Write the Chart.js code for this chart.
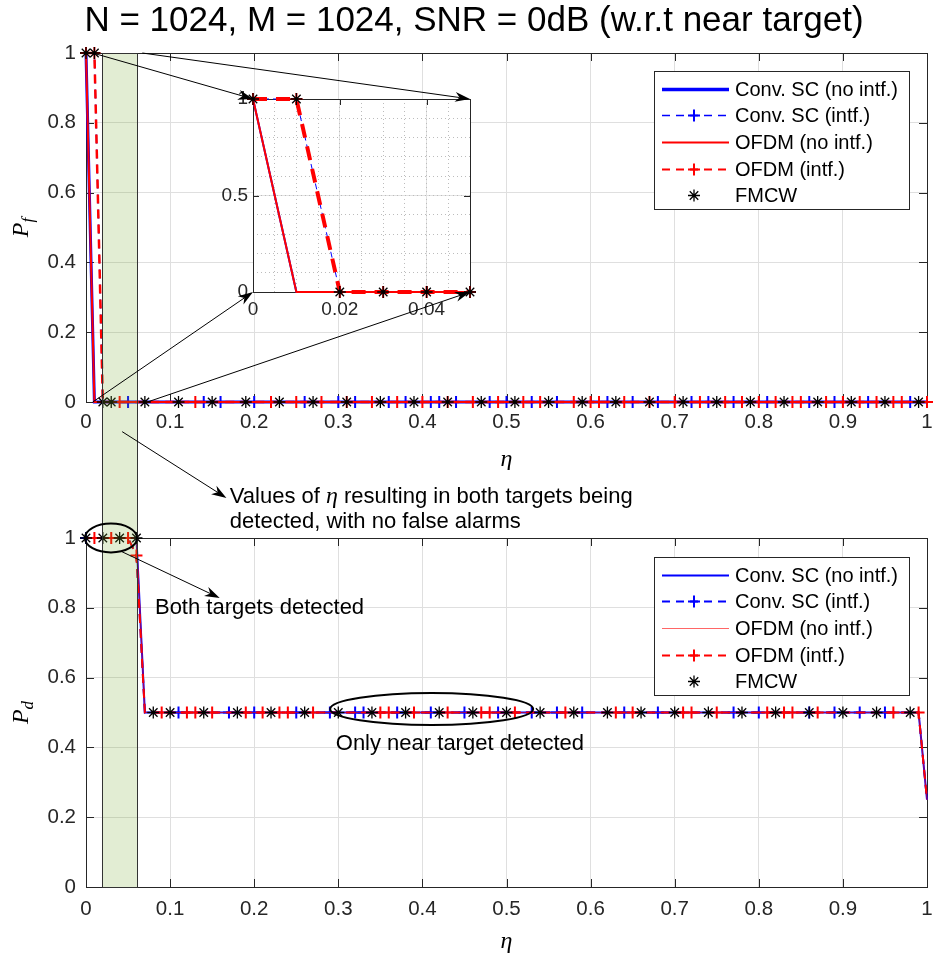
<!DOCTYPE html>
<html>
<head>
<meta charset="utf-8">
<script src="https://cdn.jsdelivr.net/npm/chart.js@4.4.1/dist/chart.umd.min.js"></script>
<style>
  html, body { margin: 0; padding: 0; background: #fff; }
  #wrap { position: relative; width: 933px; height: 962px; overflow: hidden; background: #fff; }
  #wrap canvas { position: absolute; }
</style>
</head>
<body>
<div id="wrap">
  <canvas id="pfChart" width="933" height="470" style="left:0;top:0"></canvas>
  <canvas id="pdChart" width="933" height="492" style="left:0;top:470px"></canvas>
  <canvas id="zoomChart" width="290" height="240" style="left:200px;top:85px"></canvas>
  <canvas id="notes" width="933" height="962" style="left:0;top:0;pointer-events:none"></canvas>
</div>
<script>
// ticks
const etaTicks = [0, 0.1, 0.2, 0.3, 0.4, 0.5, 0.6, 0.7, 0.8, 0.9, 1];
const probTicks = [0, 0.2, 0.4, 0.6, 0.8, 1];
const zoomEtaTicks = [0, 0.02, 0.04];
const zoomEtaMinor = [0, 0.005, 0.01, 0.015, 0.02, 0.025, 0.03, 0.035, 0.04, 0.045, 0.05];
const zoomProbTicks = [0, 0.5, 1];
const zoomProbMinor = [0, 0.1, 0.2, 0.3, 0.4, 0.5, 0.6, 0.7, 0.8, 0.9, 1];

const seriesNames = ["Conv. SC (no intf.)", "Conv. SC (intf.)", "OFDM (no intf.)", "OFDM (intf.)", "FMCW"];
const chartTitle = "N = 1024, M = 1024, SNR = 0dB (w.r.t near target)";

// P_f curves (corner points)
const pfEtaNoIntf = [0, 0.01, 1];
const pfConvNoIntf = [1, 0, 0];
const pfOfdmNoIntf = [1, 0, 0];
const pfEtaIntf = [0, 0.01, 0.02, 1];
const pfConvIntf = [1, 1, 0, 0];
const pfOfdmIntf = [1, 1, 0, 0];

// P_f marker samples
const pfConvMkEta = [0, 0.05, 0.14, 0.16, 0.20, 0.26, 0.30, 0.32, 0.36, 0.38, 0.41, 0.42, 0.44, 0.48, 0.50, 0.53, 0.56, 0.62, 0.65, 0.68, 0.72, 0.74, 0.77, 0.81, 0.86, 0.89, 0.93, 0.98];
const pfConvMkVal = [1, 0, 0, 0, 0, 0, 0, 0, 0, 0, 0, 0, 0, 0, 0, 0, 0, 0, 0, 0, 0, 0, 0, 0, 0, 0, 0, 0];
const pfOfdmMkEta = [0, 0.01, 0.04, 0.13, 0.22, 0.25, 0.28, 0.31, 0.34, 0.37, 0.40, 0.43, 0.46, 0.49, 0.52, 0.54, 0.58, 0.60, 0.61, 0.64, 0.67, 0.70, 0.73, 0.76, 0.78, 0.80, 0.82, 0.84, 0.85, 0.88, 0.90, 0.92, 0.94, 0.96, 0.97, 1];
const pfOfdmMkVal = [1, 1, 0, 0, 0, 0, 0, 0, 0, 0, 0, 0, 0, 0, 0, 0, 0, 0, 0, 0, 0, 0, 0, 0, 0, 0, 0, 0, 0, 0, 0, 0, 0, 0, 0, 0];
const pfFmcwEta = [0, 0.01, 0.02, 0.03, 0.07, 0.11, 0.15, 0.19, 0.23, 0.27, 0.31, 0.35, 0.39, 0.43, 0.47, 0.51, 0.55, 0.59, 0.63, 0.67, 0.71, 0.75, 0.79, 0.83, 0.87, 0.91, 0.95, 0.99];
const pfFmcwVal = [1, 1, 0, 0, 0, 0, 0, 0, 0, 0, 0, 0, 0, 0, 0, 0, 0, 0, 0, 0, 0, 0, 0, 0, 0, 0, 0, 0];

// P_d curves (corner points)
const pdEtaNoIntf = [0, 0.06, 0.07, 0.99, 1];
const pdConvNoIntf = [1, 1, 0.5, 0.5, 0.25];
const pdOfdmNoIntf = [1, 1, 0.5, 0.5, 0.25];
const pdEtaIntf = [0, 0.05, 0.06, 0.07, 0.99, 1];
const pdConvIntf = [1, 1, 0.95, 0.5, 0.5, 0.25];
const pdOfdmIntf = [1, 1, 0.95, 0.5, 0.5, 0.25];

// P_d marker samples
const pdConvMkEta = [0, 0.11, 0.17, 0.20, 0.25, 0.29, 0.32, 0.33, 0.37, 0.41, 0.45, 0.49, 0.53, 0.56, 0.59, 0.64, 0.68, 0.77, 0.80, 0.86, 0.89, 0.92, 0.95];
const pdConvMkVal = [1, 0.5, 0.5, 0.5, 0.5, 0.5, 0.5, 0.5, 0.5, 0.5, 0.5, 0.5, 0.5, 0.5, 0.5, 0.5, 0.5, 0.5, 0.5, 0.5, 0.5, 0.5, 0.5];
const pdOfdmMkEta = [0.01, 0.03, 0.05, 0.06, 0.09, 0.12, 0.13, 0.15, 0.19, 0.21, 0.23, 0.24, 0.27, 0.35, 0.36, 0.39, 0.43, 0.47, 0.48, 0.51, 0.57, 0.63, 0.65, 0.71, 0.72, 0.75, 0.81, 0.83, 0.84, 0.87, 0.96, 0.99];
const pdOfdmMkVal = [1, 1, 1, 0.95, 0.5, 0.5, 0.5, 0.5, 0.5, 0.5, 0.5, 0.5, 0.5, 0.5, 0.5, 0.5, 0.5, 0.5, 0.5, 0.5, 0.5, 0.5, 0.5, 0.5, 0.5, 0.5, 0.5, 0.5, 0.5, 0.5, 0.5, 0.5];
const pdFmcwEta = [0, 0.02, 0.04, 0.06, 0.08, 0.10, 0.14, 0.18, 0.22, 0.26, 0.30, 0.34, 0.38, 0.42, 0.46, 0.50, 0.54, 0.58, 0.62, 0.66, 0.70, 0.74, 0.78, 0.82, 0.86, 0.90, 0.94, 0.98];
const pdFmcwVal = [1, 1, 1, 1, 0.5, 0.5, 0.5, 0.5, 0.5, 0.5, 0.5, 0.5, 0.5, 0.5, 0.5, 0.5, 0.5, 0.5, 0.5, 0.5, 0.5, 0.5, 0.5, 0.5, 0.5, 0.5, 0.5, 0.5];

// zoomed P_f markers
const zoomMkEta = [0, 0.01, 0.02, 0.03, 0.04, 0.05];
const zoomOfdmMkVal = [1, 1, 0, 0, 0, 0];
const zoomFmcwVal = [1, 1, 0, 0, 0, 0];

const FONT = "'Liberation Sans', Arial, Helvetica, sans-serif";
const SERIF = "'Liberation Serif', 'DejaVu Serif', serif";
const AX = "#262626";

function pts(xs, ys) {
    return xs.map((x, i) => ({ x: x, y: ys[i] }));
}

function lineSet(xs, ys, color, width, dash, order, clip) {
    return {
        data: pts(xs, ys),
        borderColor: color,
        borderWidth: width,
        borderDash: dash,
        pointRadius: 0,
        pointHoverRadius: 0,
        tension: 0,
        fill: false,
        clip: clip,
        order: order
    };
}

function markSet(xs, ys, color, style, radius, width, order) {
    return {
        data: pts(xs, ys),
        showLine: false,
        pointStyle: style,
        pointRadius: radius,
        pointHoverRadius: radius,
        pointBorderColor: color,
        pointBackgroundColor: color,
        pointBorderWidth: width,
        clip: false,
        order: order
    };
}

function fixedTicks(list) {
    return s => { s.ticks = list.map(v => ({ value: v })); };
}

// keep the plot box where it is: no extra room for edge labels
function fixSize(w, h) {
    return s => {
        if (w !== null) s.width = w;
        if (h !== null) s.height = h;
        s.paddingLeft = 0; s.paddingRight = 0; s.paddingTop = 0; s.paddingBottom = 0;
    };
}

function drawMark(ctx, kind, x, y, color) {
    ctx.save();
    ctx.setLineDash([]);
    ctx.strokeStyle = color;
    ctx.beginPath();
    if (kind === "cross") {
        ctx.lineWidth = 2;
        ctx.moveTo(x - 6, y); ctx.lineTo(x + 6, y);
        ctx.moveTo(x, y - 6); ctx.lineTo(x, y + 6);
    } else {
        ctx.lineWidth = 1.3;
        for (let k = 0; k < 4; k++) {
            const a = k * Math.PI / 4;
            ctx.moveTo(x - 6 * Math.cos(a), y - 6 * Math.sin(a));
            ctx.lineTo(x + 6 * Math.cos(a), y + 6 * Math.sin(a));
        }
    }
    ctx.stroke();
    ctx.restore();
}

function drawLegend(ctx, a, lg) {
    const x0 = Math.round(a.right - 273), y0 = Math.round(a.top + lg.dy), w = 255, h = 138;
    ctx.save();
    ctx.fillStyle = "#fff";
    ctx.fillRect(x0, y0, w, h);
    ctx.strokeStyle = AX;
    ctx.lineWidth = 1;
    ctx.strokeRect(x0 + 0.5, y0 + 0.5, w, h);
    lg.items.forEach((it, i) => {
        const y = Math.round(y0 + 17.5 + i * 26.7) + 0.5;
        if (it.width) {
            ctx.beginPath();
            ctx.setLineDash(it.dash);
            ctx.lineWidth = it.width;
            ctx.strokeStyle = it.color;
            ctx.moveTo(x0 + 8, y);
            ctx.lineTo(x0 + 75, y);
            ctx.stroke();
            ctx.setLineDash([]);
        }
        if (it.mark) drawMark(ctx, it.mark, x0 + 40, y, it.markColor || it.color);
        ctx.fillStyle = "#000";
        ctx.font = "20px " + FONT;
        ctx.textAlign = "left";
        ctx.textBaseline = "middle";
        ctx.fillText(seriesNames[i], x0 + 81, y + 1);
    });
    ctx.restore();
}

function matlabLook(cfg) {
    return {
        id: "matlabLook",
        beforeDraw(chart) {
            if (!cfg.white) return;
            const { ctx, chartArea: a } = chart;
            ctx.save();
            ctx.fillStyle = "#fff";
            ctx.fillRect(a.left, a.top, a.right - a.left, a.bottom - a.top);
            ctx.restore();
        },
        beforeDatasetsDraw(chart) {
            const { ctx, chartArea: a, scales } = chart;
            const L = cfg.tick;
            ctx.save();
            ctx.strokeStyle = AX;
            ctx.lineWidth = 1;
            ctx.setLineDash([]);
            ctx.strokeRect(a.left + 0.5, a.top + 0.5, a.right - a.left, a.bottom - a.top);
            ctx.beginPath();
            scales.x.ticks.forEach(t => {
                const p = Math.round(scales.x.getPixelForValue(t.value)) + 0.5;
                ctx.moveTo(p, a.bottom); ctx.lineTo(p, a.bottom - L);
                ctx.moveTo(p, a.top); ctx.lineTo(p, a.top + L);
            });
            scales.y.ticks.forEach(t => {
                const p = Math.round(scales.y.getPixelForValue(t.value)) + 0.5;
                ctx.moveTo(a.left, p); ctx.lineTo(a.left + L, p);
                ctx.moveTo(a.right, p); ctx.lineTo(a.right - L, p);
            });
            ctx.stroke();
            ctx.restore();
        },
        afterDraw(chart) {
            const { ctx, chartArea: a } = chart;
            ctx.save();
            ctx.fillStyle = "#000";
            ctx.textBaseline = "middle";
            if (cfg.title) {
                ctx.font = "35px " + FONT;
                ctx.textAlign = "center";
                ctx.fillText(cfg.title, 474, 21);
            }
            if (cfg.yLabel) {
                ctx.font = "italic 24px " + SERIF;
                ctx.textAlign = "center";
                ctx.fillText("\u03b7", (a.left + a.right) / 2, a.bottom + cfg.xLabelGap);
                ctx.save();
                ctx.translate(22, (a.top + a.bottom) / 2);
                ctx.rotate(-Math.PI / 2);
                ctx.textAlign = "left";
                const wP = ctx.measureText("P").width;
                ctx.font = "italic 17px " + SERIF;
                const wS = ctx.measureText(cfg.yLabel).width;
                const x = -(wP + wS) / 2;
                ctx.font = "italic 24px " + SERIF;
                ctx.fillText("P", x, 0);
                ctx.font = "italic 17px " + SERIF;
                ctx.fillText(cfg.yLabel, x + wP, 7);
                ctx.restore();
            }
            if (cfg.legend) drawLegend(ctx, a, cfg.legend);
            ctx.restore();
        }
    };
}

function mainScales(xHeight, xPad) {
    const tickFont = { family: FONT, size: 20.5 };
    return {
        x: {
            type: "linear", min: 0, max: 1,
            afterBuildTicks: fixedTicks(etaTicks),
            afterFit: fixSize(null, xHeight),
            grid: { color: "#dfdfdf", drawTicks: false },
            border: { display: false },
            ticks: { color: AX, font: tickFont, padding: xPad, maxRotation: 0, autoSkip: false, callback: v => String(v) }
        },
        y: {
            type: "linear", min: 0, max: 1,
            afterBuildTicks: fixedTicks(probTicks),
            afterFit: fixSize(86, null),
            grid: { color: "#dfdfdf", drawTicks: false },
            border: { display: false },
            ticks: { color: AX, font: tickFont, padding: 10, autoSkip: false, callback: v => String(v) }
        }
    };
}

const baseOptions = {
    responsive: false,
    animation: false,
    events: [],
    plugins: { legend: { display: false }, tooltip: { enabled: false } }
};

const pfChart = new Chart(document.getElementById("pfChart"), {
    type: "line",
    data: {
        datasets: [
            lineSet(pfEtaNoIntf, pfConvNoIntf, "#0000ff", 3, [], 6, false),
            lineSet(pfEtaIntf, pfConvIntf, "#0000ff", 1.5, [9, 6], 5, false),
            markSet(pfConvMkEta, pfConvMkVal, "#0000ff", "cross", 6, 2, 4),
            lineSet(pfEtaNoIntf, pfOfdmNoIntf, "#ff0000", 2, [], 3, false),
            lineSet(pfEtaIntf, pfOfdmIntf, "#ff0000", 2.5, [9, 6], 2, false),
            markSet(pfOfdmMkEta, pfOfdmMkVal, "#ff0000", "cross", 6, 2, 1),
            markSet(pfFmcwEta, pfFmcwVal, "#000000", "star", 6, 1.3, 0)
        ]
    },
    options: Object.assign({}, baseOptions, {
        layout: { autoPadding: false, padding: { top: 53, right: 6, left: 0, bottom: 0 } },
        scales: mainScales(68, 8)
    }),
    plugins: [matlabLook({
        tick: 8, title: chartTitle, yLabel: "f", xLabelGap: 58,
        legend: {
            dy: 18,
            items: [
                { color: "#0000ff", width: 3.5, dash: [] },
                { color: "#0000ff", width: 1.5, dash: [8, 6], mark: "cross" },
                { color: "#ff0000", width: 2, dash: [] },
                { color: "#ff0000", width: 2, dash: [8, 6], mark: "cross" },
                { color: "#000", mark: "star" }
            ]
        }
    })]
});

const pdChart = new Chart(document.getElementById("pdChart"), {
    type: "line",
    data: {
        datasets: [
            lineSet(pdEtaNoIntf, pdConvNoIntf, "#0000ff", 2, [], 6, false),
            lineSet(pdEtaIntf, pdConvIntf, "#0000ff", 2, [9, 6], 5, false),
            markSet(pdConvMkEta, pdConvMkVal, "#0000ff", "cross", 6, 2, 4),
            lineSet(pdEtaNoIntf, pdOfdmNoIntf, "rgba(255,0,0,0.6)", 1.2, [], 3, false),
            lineSet(pdEtaIntf, pdOfdmIntf, "#ff0000", 2, [9, 6], 2, false),
            markSet(pdOfdmMkEta, pdOfdmMkVal, "#ff0000", "cross", 6, 2, 1),
            markSet(pdFmcwEta, pdFmcwVal, "#000000", "star", 6, 1.3, 0)
        ]
    },
    options: Object.assign({}, baseOptions, {
        layout: { autoPadding: false, padding: { top: 68, right: 6, left: 0, bottom: 0 } },
        scales: mainScales(75, 10)
    }),
    plugins: [matlabLook({
        tick: 8, yLabel: "d", xLabelGap: 55,
        legend: {
            dy: 19,
            items: [
                { color: "#0000ff", width: 2, dash: [] },
                { color: "#0000ff", width: 2, dash: [8, 6], mark: "cross" },
                { color: "rgba(255,0,0,0.6)", width: 1.2, dash: [] },
                { color: "#ff0000", width: 2, dash: [8, 6], mark: "cross" },
                { color: "#000", mark: "star" }
            ]
        }
    })]
});

const ZCLIP = { left: 0, right: 0, top: 4, bottom: 4 };
const zoomFont = { family: FONT, size: 19 };

const zoomChart = new Chart(document.getElementById("zoomChart"), {
    type: "line",
    data: {
        datasets: [
            lineSet(pfEtaNoIntf, pfConvNoIntf, "#0000ff", 2, [], 6, ZCLIP),
            lineSet(pfEtaIntf, pfConvIntf, "#0000ff", 1, [6, 4], 4, ZCLIP),
            lineSet(pfEtaNoIntf, pfOfdmNoIntf, "#ff0000", 2, [], 3, ZCLIP),
            lineSet(pfEtaIntf, pfOfdmIntf, "#ff0000", 4, [14, 9], 2, ZCLIP),
            markSet(zoomMkEta, zoomOfdmMkVal, "#ff0000", "cross", 6, 2, 1),
            markSet(zoomMkEta, zoomFmcwVal, "#000000", "star", 6, 1.3, 0)
        ]
    },
    options: Object.assign({}, baseOptions, {
        layout: { autoPadding: false, padding: { top: 14, right: 20, left: 0, bottom: 0 } },
        scales: {
            x: {
                type: "linear", min: 0, max: 0.05,
                afterBuildTicks: fixedTicks(zoomEtaTicks),
                afterFit: fixSize(null, 33),
                grid: { color: "#e2e2e2", drawTicks: false },
                border: { display: false },
                ticks: { color: AX, font: zoomFont, padding: 6, maxRotation: 0, autoSkip: false, callback: v => String(v) }
            },
            xm: {
                type: "linear", position: "bottom", min: 0, max: 0.05,
                afterBuildTicks: fixedTicks(zoomEtaMinor),
                afterFit: fixSize(null, 0),
                grid: { color: "#bcbcbc", drawTicks: false },
                border: { display: false, dash: [1, 3] },
                ticks: { display: false }
            },
            y: {
                type: "linear", min: 0, max: 1,
                afterBuildTicks: fixedTicks(zoomProbTicks),
                afterFit: fixSize(53, null),
                grid: { color: "#e2e2e2", drawTicks: false },
                border: { display: false },
                ticks: { color: AX, font: zoomFont, padding: 5, autoSkip: false, callback: v => String(v) }
            },
            ym: {
                type: "linear", position: "left", min: 0, max: 1,
                afterBuildTicks: fixedTicks(zoomProbMinor),
                afterFit: fixSize(0, null),
                grid: { color: "#bcbcbc", drawTicks: false },
                border: { display: false, dash: [1, 3] },
                ticks: { display: false }
            }
        }
    }),
    plugins: [matlabLook({ tick: 6, white: true })]
});

function arrow(c, from, to) {
    const [x1, y1] = from, [x2, y2] = to;
    const a = Math.atan2(y2 - y1, x2 - x1);
    const L = 15, W = 5;
    const cs = Math.cos(a), sn = Math.sin(a);
    c.save();
    c.strokeStyle = "#000";
    c.fillStyle = "#000";
    c.lineWidth = 1;
    c.beginPath();
    c.moveTo(x1, y1);
    c.lineTo(x2 - L * 0.7 * cs, y2 - L * 0.7 * sn);
    c.stroke();
    c.beginPath();
    c.moveTo(x2, y2);
    c.lineTo(x2 - L * cs + W * sn, y2 - L * sn - W * cs);
    c.lineTo(x2 - L * 0.7 * cs, y2 - L * 0.7 * sn);
    c.lineTo(x2 - L * cs - W * sn, y2 - L * sn + W * cs);
    c.closePath();
    c.fill();
    c.restore();
}

function richText(c, x, y, parts) {
    let cx = x;
    parts.forEach(p => {
        c.font = p.italic ? "italic 24px " + SERIF : "22px " + FONT;
        c.fillText(p.t, cx, y);
        cx += c.measureText(p.t).width;
    });
}

function drawNotes() {
    const c = document.getElementById("notes").getContext("2d");
    const at = (ch, dx, dy) => (x, y) => [ch.scales.x.getPixelForValue(x) + dx, ch.scales.y.getPixelForValue(y) + dy];
    const T = at(pfChart, 0, 0), B = at(pdChart, 0, 470), Z = at(zoomChart, 200, 85);

    // shaded band of eta values
    const [bx0, by0] = T(0.019, 1);
    const bx1 = T(0.061, 1)[0];
    const by1 = B(0, 0)[1];
    c.fillStyle = "rgba(119,172,48,0.21)";
    c.fillRect(bx0, by0, bx1 - bx0, by1 - by0);
    c.strokeStyle = "#333";
    c.lineWidth = 1;
    c.strokeRect(Math.round(bx0) + 0.5, Math.round(by0) + 0.5, Math.round(bx1 - bx0), Math.round(by1 - by0));

    // zoom arrows
    arrow(c, T(0.008, 1), Z(0, 1));
    arrow(c, T(0.067, 1), Z(0.05, 1));
    arrow(c, T(0.008, 0), Z(0, 0));
    arrow(c, T(0.073, 0), Z(0.05, 0));

    c.fillStyle = "#000";
    c.textBaseline = "middle";
    c.textAlign = "left";

    // band note
    arrow(c, T(0.043, -0.085), T(0.167, -0.275));
    const l1 = T(0.171, -0.272), l2 = T(0.171, -0.343);
    richText(c, l1[0], l1[1], [{ t: "Values of " }, { t: "\u03b7", italic: true }, { t: " resulting in both targets being" }]);
    richText(c, l2[0], l2[1], [{ t: "detected, with no false alarms" }]);

    // both targets
    c.strokeStyle = "#000";
    c.lineWidth = 2;
    const e1 = B(0.0297, 1.0);
    const r1x = B(0.0297 + 0.031, 1)[0] - e1[0], r1y = B(0.0297, 1 - 0.0415)[1] - e1[1];
    c.beginPath();
    c.ellipse(e1[0], e1[1], r1x, r1y, 0, 0, 2 * Math.PI);
    c.stroke();
    arrow(c, B(0.0425, 0.961), B(0.159, 0.828));
    const t1 = B(0.082, 0.80);
    richText(c, t1[0], t1[1], [{ t: "Both targets detected" }]);

    // near target only
    c.strokeStyle = "#000";
    c.lineWidth = 2;
    const e2 = B(0.411, 0.51);
    const r2x = B(0.411 + 0.1207, 0.51)[0] - e2[0], r2y = B(0.411, 0.51 - 0.046)[1] - e2[1];
    c.beginPath();
    c.ellipse(e2[0], e2[1], r2x, r2y, 0, 0, 2 * Math.PI);
    c.stroke();
    const t2 = B(0.297, 0.41);
    richText(c, t2[0], t2[1], [{ t: "Only near target detected" }]);
}

drawNotes();
</script>
</body>
</html>
